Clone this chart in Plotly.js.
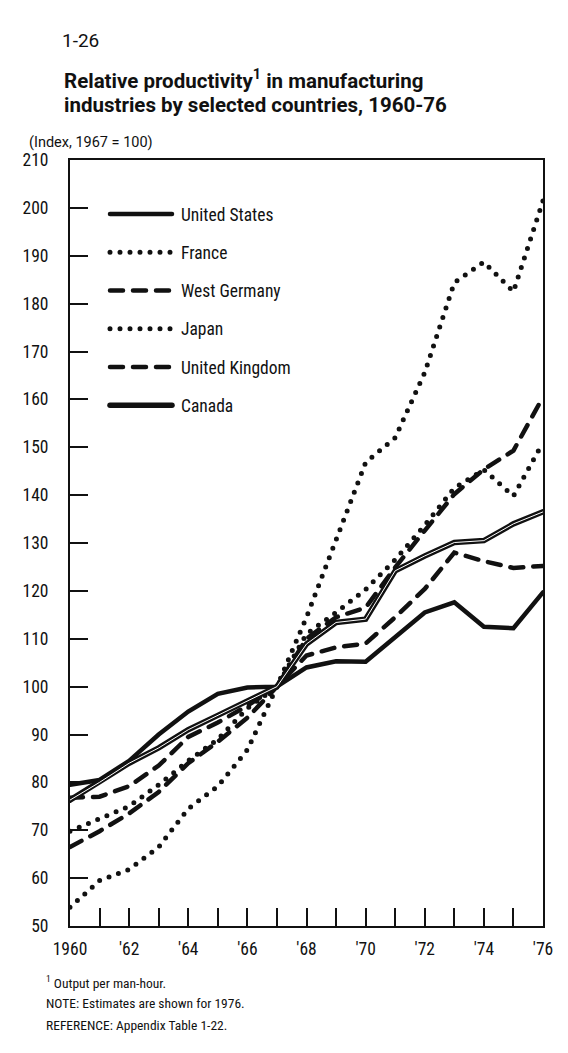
<!DOCTYPE html>
<html>
<head>
<meta charset="utf-8">
<script src="https://cdn.plot.ly/plotly-3.0.1.min.js"></script>
<style>
  html, body { margin: 0; padding: 0; background: #ffffff; }
  #chart { width: 568px; height: 1053px; }
  #chart text { font-stretch: condensed; }
</style>
</head>
<body>
<div id="chart"></div>
<script>
// ---- Data (Index, 1967 = 100) ----
const years = [1960, 1961, 1962, 1963, 1964, 1965, 1966, 1967, 1968, 1969, 1970, 1971, 1972, 1973, 1974, 1975, 1976];
const unitedStates  = [79.5, 80.5, 84.5, 90.0, 94.8, 98.5, 99.8, 100, 104.0, 105.3, 105.2, 110.5, 115.5, 117.6, 112.5, 112.2, 119.7];
const france        = [69.8, 72.3, 75.0, 79.5, 84.5, 89.0, 95.5, 100, 111.0, 115.5, 120.3, 126.5, 133.7, 141.5, 145.3, 139.8, 151.0];
const westGermany   = [66.5, 69.8, 73.5, 78.0, 84.0, 88.5, 93.5, 100, 110.0, 114.5, 116.5, 124.9, 132.6, 140.2, 145.4, 149.3, 160.5];
const japan         = [53.9, 59.5, 61.8, 66.5, 74.5, 79.2, 86.8, 100, 114.5, 131.0, 146.8, 152.0, 165.6, 184.4, 188.7, 182.5, 201.5];
const unitedKingdom = [76.8, 77.0, 79.2, 83.5, 89.5, 92.5, 96.0, 100, 106.5, 108.2, 109.0, 114.5, 120.4, 128.0, 126.2, 124.8, 125.2];
const canada        = [76.3, 80.0, 84.0, 87.2, 91.0, 94.0, 97.0, 100, 108.9, 113.4, 114.1, 124.2, 127.3, 130.1, 130.5, 134.0, 136.5];

const xTickVals = [1960, 1962, 1964, 1966, 1968, 1970, 1972, 1974, 1976];
const xTickText = ["1960", "'62", "'64", "'66", "'68", "'70", "'72", "'74", "'76"];
const yTickVals = [50, 60, 70, 80, 90, 100, 110, 120, 130, 140, 150, 160, 170, 180, 190, 200, 210];

const FONT = 'Roboto, "DejaVu Sans", sans-serif';
const INK = '#111111';
const DOT = '0px,10px';
const DASH = '13px,10px';

function tr(name, y, dash, width, group, color, showlegend) {
  return {
    type: 'scatter', mode: 'lines', name: name, x: years, y: y,
    legendgroup: group, showlegend: showlegend !== false,
    line: { color: color || INK, width: width, dash: dash },
    hoverinfo: 'skip'
  };
}

const data = [
  tr('United States', unitedStates, 'solid', 4.5, 'us'),
  tr('France', france, DOT, 5, 'fr'),
  tr('West Germany', westGermany, DASH, 4.5, 'wg'),
  tr('Japan', japan, DOT, 5, 'jp'),
  tr('United Kingdom', unitedKingdom, DASH, 4.5, 'uk'),
  tr('Canada', canada, 'solid', 5.5, 'ca'),
  tr('Canada', canada, 'solid', 1, 'ca', '#ffffff', false)
];

function ann(text, x, y, size) {
  return {
    text: text, xref: 'paper', yref: 'paper', x: x, y: y,
    xanchor: 'left', yanchor: 'middle', showarrow: false, align: 'left',
    font: { family: FONT, size: size, color: INK }
  };
}

const layout = {
  width: 568, height: 1053,
  margin: { l: 70, r: 25, t: 160, b: 127, pad: 0 },
  paper_bgcolor: '#ffffff', plot_bgcolor: '#ffffff',
  showlegend: true,
  legend: {
    x: 0.074, y: 0.953, xanchor: 'left', yanchor: 'top',
    bgcolor: 'rgba(0,0,0,0)', borderwidth: 0,
    font: { family: FONT, size: 17.5, color: INK },
    traceorder: 'grouped', tracegroupgap: 12.5,
    itemclick: false, itemdoubleclick: false
  },
  xaxis: {
    range: [1960, 1976], showgrid: false, zeroline: false,
    showline: true, mirror: true, linecolor: INK, linewidth: 2,
    ticks: 'inside', ticklen: 18, tickwidth: 2, tickcolor: INK,
    tickmode: 'array', tickvals: xTickVals, ticktext: xTickText,
    tickfont: { family: FONT, size: 17.5, color: INK },
    ticklabelstandoff: 6,
    minor: { ticks: 'inside', ticklen: 18, tickwidth: 2, tickcolor: INK, tick0: 1960, dtick: 1, showgrid: false }
  },
  yaxis: {
    range: [50, 210], showgrid: false, zeroline: false,
    showline: true, mirror: true, linecolor: INK, linewidth: 2,
    ticks: 'inside', ticklen: 18, tickwidth: 2, tickcolor: INK,
    tickmode: 'array', tickvals: yTickVals,
    tickfont: { family: FONT, size: 17.5, color: INK },
    ticklabelstandoff: 16
  },
  annotations: [
    ann('1-26', -0.021, 1.1554, 19),
    ann('<b>Relative productivity<sup>1</sup> in manufacturing</b>', -0.017, 1.1046, 20.5),
    ann('<b>industries by selected countries, 1960-76</b>', -0.017, 1.0720, 20.5),
    ann('(Index, 1967 = 100)', -0.091, 1.0222, 14.5),
    ann('<sup>1</sup> Output per man-hour.', -0.055, -0.0731, 13.5),
    ann('NOTE: Estimates are shown for 1976.', -0.055, -0.1005, 13.5),
    ann('REFERENCE: Appendix Table 1-22.', -0.055, -0.1292, 13.5)
  ]
};

Plotly.newPlot('chart', data, layout, { staticPlot: true, displayModeBar: false }).then(function () {
  document.querySelectorAll('#chart path.js-line, #chart .legendlines path').forEach(function (p) {
    p.style.strokeLinecap = 'round';
  });
  document.querySelectorAll('#chart .legend [clip-path]').forEach(function (el) {
    el.removeAttribute('clip-path');
  });
  document.querySelectorAll('#chart .legend .traces').forEach(function (g) {
    const lp = g.querySelector('.legendlines path');
    if (lp) lp.setAttribute('d', 'M5,0h62');
    const t = g.querySelector('text.legendtext');
    if (t) t.setAttribute('x', '76');
  });
  const anns = document.querySelectorAll('#chart g.annotation text');
  for (let i = 0; i < 4 && i < anns.length; i++) {
    anns[i].style.fontStretch = 'normal';
  }
});
</script>
</body>
</html>
